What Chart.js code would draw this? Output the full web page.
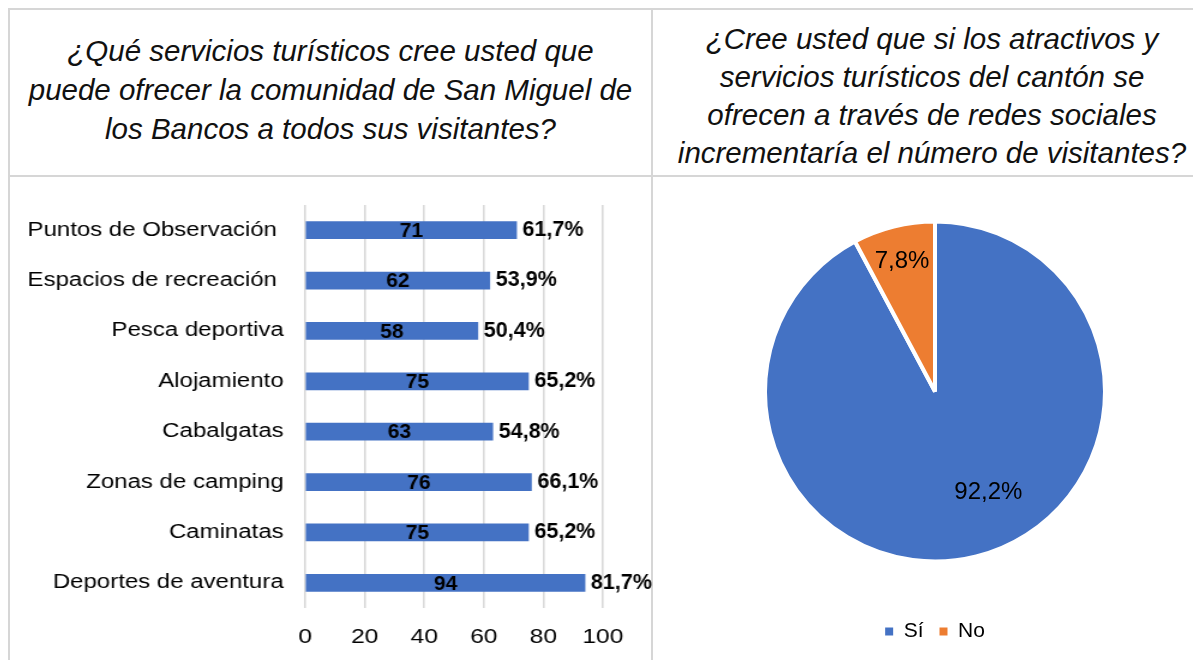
<!DOCTYPE html>
<html>
<head>
<meta charset="utf-8">
<script src="https://cdn.jsdelivr.net/npm/chart.js@4"></script>
<style>
  body { margin: 0; background: #fff; width: 1193px; height: 660px; overflow: hidden; position: relative;
         font-family: "Liberation Sans", Arial, sans-serif; }
  .line { position: absolute; background: #d6d6d6; }
  .title { position: absolute; text-align: center; font-style: italic; color: #111; white-space: nowrap; }
</style>
</head>
<body>
<div class="line" style="left:8px;top:8px;width:1185px;height:2px"></div>
<div class="line" style="left:8px;top:175px;width:1185px;height:2px"></div>
<div class="line" style="left:8px;top:8px;width:2px;height:652px"></div>
<div class="line" style="left:651px;top:8px;width:2px;height:652px"></div>

<div class="title" id="leftTitle" style="left:10px;width:641px;top:31px;font-size:29.5px;line-height:39px"></div>
<div class="title" id="rightTitle" style="left:653px;width:558px;top:20px;font-size:29.5px;line-height:38px"></div>

<div style="position:absolute;left:10px;top:180px;width:536px;height:480px;transform:scaleX(1.2);transform-origin:0 0">
  <canvas id="barChart"></canvas>
</div>
<div style="position:absolute;left:654px;top:160px;width:539px;height:500px">
  <canvas id="pieChart"></canvas>
</div>

<script>
// ---------- Data ----------
const leftTitleLines = [
  '¿Qué servicios turísticos cree usted que',
  'puede ofrecer la comunidad de San Miguel de',
  'los Bancos a todos sus visitantes?'
];
const rightTitleLines = [
  '¿Cree usted que si los atractivos y',
  'servicios turísticos del cantón se',
  'ofrecen a través de redes sociales',
  'incrementaría el número de visitantes?'
];

const services = [
  'Puntos de Observación ',
  'Espacios de recreación ',
  'Pesca deportiva',
  'Alojamiento',
  'Cabalgatas',
  'Zonas de camping',
  'Caminatas',
  'Deportes de aventura'
];
const counts = [71, 62, 58, 75, 63, 76, 75, 94];
const percents = [61.7, 53.9, 50.4, 65.2, 54.8, 66.1, 65.2, 81.7];
const xTicks = [0, 20, 40, 60, 80, 100];

const pieLabels = ['Sí', 'No'];
const pieValues = [92.2, 7.8];

// ---------- Helpers ----------
const STRETCH = 1.2; // bar chart box is stretched horizontally in the original
const FONT = '"Liberation Sans", Arial, sans-serif';

function fmtPct(v) {
  return v.toFixed(1).replace('.', ',') + '%';
}

function drawUnstretched(ctx, txt, x, y, align) {
  ctx.save();
  ctx.translate(x, y);
  ctx.scale(1 / STRETCH, 1);
  ctx.textAlign = align;
  ctx.fillText(txt, 0, 0);
  ctx.restore();
}

document.getElementById('leftTitle').innerHTML = leftTitleLines.join('<br>');
document.getElementById('rightTitle').innerHTML = rightTitleLines.join('<br>');

Chart.defaults.font.family = FONT;
Chart.defaults.color = '#000';

// ---------- Bar chart ----------
const barLabelsPlugin = {
  id: 'barLabels',
  afterDatasetsDraw(chart) {
    const ctx = chart.ctx;
    const meta = chart.getDatasetMeta(0);
    ctx.save();
    ctx.fillStyle = '#000';
    ctx.textBaseline = 'middle';
    meta.data.forEach((bar, i) => {
      ctx.font = 'bold 21px ' + FONT;
      drawUnstretched(ctx, String(counts[i]), (bar.x + bar.base) / 2, bar.y + 1, 'center');
      ctx.font = 'bold 21.5px ' + FONT;
      drawUnstretched(ctx, fmtPct(percents[i]), bar.x + 6 / STRETCH, bar.y, 'left');
    });
    ctx.restore();
  }
};

new Chart(document.getElementById('barChart').getContext('2d'), {
  type: 'bar',
  data: {
    labels: services,
    datasets: [{
      data: counts,
      backgroundColor: '#4472C4',
      barThickness: 17
    }]
  },
  options: {
    indexAxis: 'y',
    responsive: true,
    maintainAspectRatio: false,
    animation: false,
    events: [],
    layout: { padding: { top: 25, right: 42, left: 0, bottom: 0 } },
    plugins: { legend: { display: false }, tooltip: { enabled: false } },
    scales: {
      x: {
        min: xTicks[0],
        max: xTicks[xTicks.length - 1],
        afterBuildTicks(scale) { scale.ticks = xTicks.map(v => ({ value: v })); },
        ticks: { padding: 17, font: { size: 20.5 } },
        grid: { color: '#d9d9d9', lineWidth: 1.6, drawTicks: false },
        border: { display: false },
        afterFit(scale) { scale.height = 52; }
      },
      y: {
        ticks: { padding: 18, font: { size: 20 } },
        grid: { display: false, drawTicks: false },
        border: { display: false },
        afterFit(scale) {
          scale.width = 246;
          // the label gap should not push the plot area down
          scale.paddingTop = 0;
          scale.paddingBottom = 0;
        }
      }
    }
  },
  plugins: [barLabelsPlugin]
});

// ---------- Pie chart ----------
// where Excel put the two slice labels: fraction of radius, and turn from mid-angle (rad)
const pieLabelPos = [{ frac: 0.66, turn: -0.25 }, { frac: 0.8, turn: 0 }];

const pieLabelsPlugin = {
  id: 'pieLabels',
  afterDatasetsDraw(chart) {
    const ctx = chart.ctx;
    const meta = chart.getDatasetMeta(0);
    ctx.save();
    ctx.fillStyle = '#000';
    ctx.font = '24px ' + FONT;
    ctx.textAlign = 'center';
    ctx.textBaseline = 'middle';
    meta.data.forEach((arc, i) => {
      const p = arc.getProps(['x', 'y', 'startAngle', 'endAngle', 'outerRadius']);
      const a = (p.startAngle + p.endAngle) / 2 + pieLabelPos[i].turn;
      const r = p.outerRadius * pieLabelPos[i].frac;
      ctx.fillText(fmtPct(pieValues[i]), p.x + Math.cos(a) * r, p.y + Math.sin(a) * r + 2);
    });
    ctx.restore();
  }
};

new Chart(document.getElementById('pieChart').getContext('2d'), {
  type: 'pie',
  data: {
    labels: pieLabels,
    datasets: [{
      data: pieValues,
      backgroundColor: ['#4472C4', '#ED7D31'],
      borderColor: '#fff',
      borderWidth: 4,
      radius: 170
    }]
  },
  options: {
    responsive: true,
    maintainAspectRatio: false,
    animation: false,
    events: [],
    layout: { padding: { top: 18, bottom: 8, left: 23, right: 0 } },
    plugins: {
      tooltip: { enabled: false },
      legend: {
        position: 'bottom',
        labels: {
          boxWidth: 8,
          boxHeight: 8,
          padding: 16,
          font: { size: 21 },
          color: '#000',
          generateLabels(chart) {
            return Chart.overrides.doughnut.plugins.legend.labels.generateLabels(chart)
              .map(l => Object.assign(l, { lineWidth: 0, strokeStyle: 'rgba(0,0,0,0)' }));
          }
        }
      }
    }
  },
  plugins: [pieLabelsPlugin]
});
</script>
</body>
</html>
